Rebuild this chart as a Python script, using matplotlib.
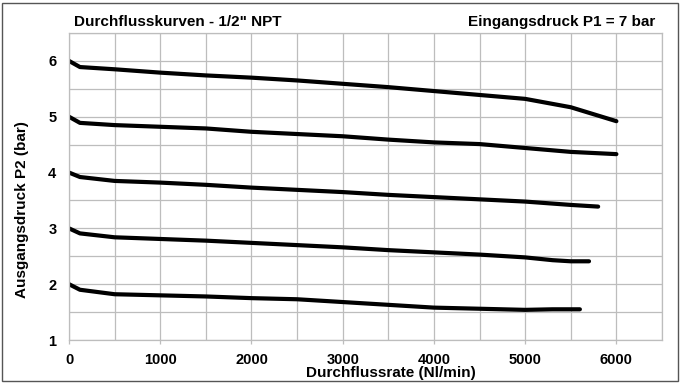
import matplotlib.pyplot as plt
import matplotlib.patches as patches
import numpy as np

plt.rcParams['font.family'] = ['Liberation Sans', 'DejaVu Sans']
plt.rcParams['font.weight'] = 'bold'

# Durchfluss (Nl/min) und Ausgangsdruck (bar) je Kurve
x_p6 = [0, 120, 500, 1000, 1500, 2000, 2500, 3000, 3500, 4000, 4500, 5000, 5500, 6000]
y_p6 = [6.0, 5.89, 5.85, 5.79, 5.74, 5.70, 5.65, 5.59, 5.53, 5.46, 5.39, 5.32, 5.17, 4.92]

x_p5 = [0, 120, 500, 1000, 1500, 2000, 2500, 3000, 3500, 4000, 4500, 5000, 5500, 6000]
y_p5 = [5.0, 4.89, 4.85, 4.82, 4.79, 4.73, 4.69, 4.65, 4.59, 4.54, 4.51, 4.44, 4.37, 4.33]

x_p4 = [0, 120, 500, 1000, 1500, 2000, 2500, 3000, 3500, 4000, 4500, 5000, 5500, 5800]
y_p4 = [4.0, 3.92, 3.85, 3.82, 3.78, 3.73, 3.69, 3.65, 3.60, 3.56, 3.52, 3.48, 3.42, 3.39]

x_p3 = [0, 120, 500, 1000, 1500, 2000, 2500, 3000, 3500, 4000, 4500, 5000, 5300, 5500, 5700]
y_p3 = [3.0, 2.91, 2.84, 2.81, 2.78, 2.74, 2.70, 2.66, 2.61, 2.57, 2.53, 2.48, 2.43, 2.41, 2.41]

x_p2 = [0, 120, 500, 1000, 1500, 2000, 2500, 3000, 3500, 4000, 4500, 5000, 5300, 5600]
y_p2 = [2.0, 1.9, 1.82, 1.80, 1.78, 1.75, 1.73, 1.68, 1.63, 1.58, 1.56, 1.54, 1.55, 1.55]

kurven = [(x_p6, y_p6), (x_p5, y_p5), (x_p4, y_p4), (x_p3, y_p3), (x_p2, y_p2)]

W, H = 680, 383
fig = plt.figure(figsize=(6.8, 3.83), dpi=100)
ax = fig.add_axes([69 / W, 1 - 340 / H, (662 - 69) / W, (340 - 33) / H])

for xs, ys in kurven:
    ax.plot(xs, ys, color='black', linewidth=3, solid_capstyle='round',
            solid_joinstyle='round')

ax.set_xlim(0, 6500)
ax.set_ylim(1, 6.5)
ax.set_xticks(np.arange(0, 6001, 1000))
ax.set_xticks(np.arange(0, 6501, 500), minor=True)
ax.set_yticks(np.arange(1, 7, 1))
ax.set_yticks(np.arange(1, 6.51, 0.5), minor=True)
ax.grid(True, which='both', color='#bdbdbd', linewidth=0.9)
ax.set_axisbelow(True)
for s in ax.spines.values():
    s.set_color('#bdbdbd')
    s.set_linewidth(0.9)
ax.tick_params(axis='x', which='major', length=3, width=0.9, color='#bdbdbd',
               labelsize=10.5, pad=6)
ax.tick_params(axis='y', which='major', length=0, labelsize=10.5, pad=9)
ax.tick_params(which='minor', length=0)
for lbl in ax.get_xticklabels() + ax.get_yticklabels():
    lbl.set_fontweight('bold')

fig.text(391 / W, 1 - 373 / H, 'Durchflussrate (Nl/min)', fontsize=11,
         fontweight='bold', ha='center', va='center')
fig.text(22 / W, 1 - 210 / H, 'Ausgangsdruck P2 (bar)', fontsize=11,
         fontweight='bold', ha='center', va='center', rotation=90)

fig.text(74 / W, 1 - 22 / H, 'Durchflusskurven - 1/2" NPT', fontsize=11,
         fontweight='bold', ha='left', va='center')
fig.text(655 / W, 1 - 22 / H, 'Eingangsdruck P1 = 7 bar', fontsize=11,
         fontweight='bold', ha='right', va='center')

# Rahmen um die Grafik
fig.patches.append(patches.Rectangle((2 / W, 2 / H), 676 / W, 378 / H,
                                     transform=fig.transFigure, fill=False,
                                     edgecolor='#555555', linewidth=1))

fig.savefig('out.png', dpi=100)
